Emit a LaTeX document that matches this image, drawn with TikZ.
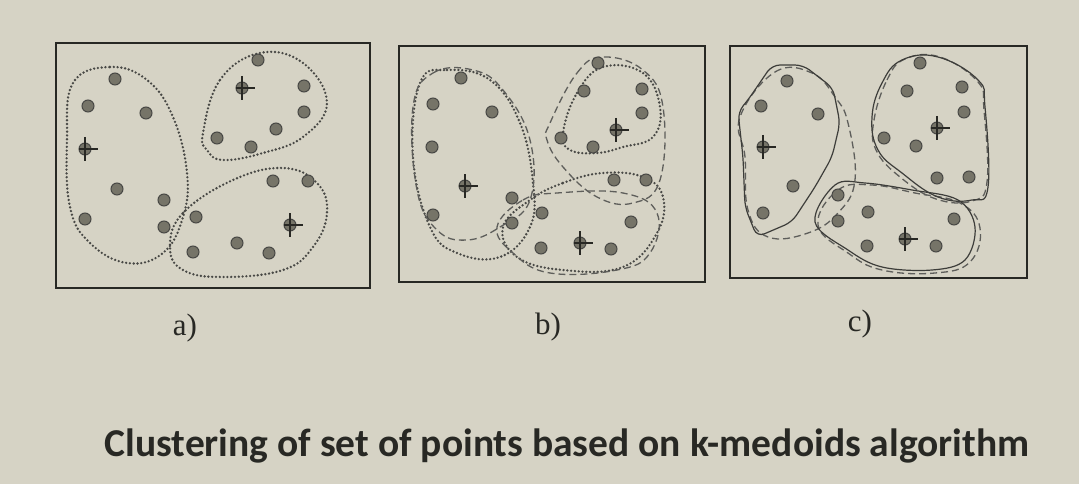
\documentclass[tikz,border=0pt]{standalone}
\usepackage{fontspec}
\setmainfont{Liberation Serif}
\newfontfamily\capfont{Carlito}
\usetikzlibrary{positioning}
\definecolor{paper}{RGB}{214,211,197}
\definecolor{ink}{RGB}{40,40,36}
\definecolor{dotgrey}{RGB}{118,116,104}

\begin{document}
\begin{tikzpicture}[x=1pt, y=-1pt,
  panel/.style={draw=ink, line width=1.3pt},
  pnt/.style={circle, draw=ink!85, fill=dotgrey, line width=1pt, inner sep=0pt, minimum size=12pt},
  cross/.style={draw=ink, line width=1.2pt},
  olddots/.style={draw=ink!85, line width=2.6pt, line cap=round, dash pattern=on 0pt off 3.8pt},
  newdash/.style={draw=ink!75, line width=1.3pt, dash pattern=on 7pt off 4pt},
  final/.style={draw=ink!90, line width=1.2pt},
  lbl/.style={font=\fontsize{31}{33}\selectfont, text=ink}]

  \useasboundingbox[fill=paper] (0,0) rectangle (1079,484);

  % frames
  \draw[panel] (56,43) rectangle (370,288);
  \draw[panel] (399,46) rectangle (705,282);
  \draw[panel] (730,46) rectangle (1027,278);

  % a) starting clusters
  \draw[olddots] plot[smooth cycle, tension=0.7] coordinates {(73,83) (110,67) (147,80) (173,117) (187,173) (183,217) (163,253) (127,263) (90,243) (70,207) (67,140)};
  \draw[olddots] plot[smooth cycle, tension=0.7] coordinates {(203,133) (220,80) (260,53) (303,63) (327,103) (303,137) (263,153) (223,160) (207,150)};
  \draw[olddots] plot[smooth cycle, tension=0.7] coordinates {(170,247) (183,213) (233,180) (283,168) (317,183) (327,213) (313,247) (283,270) (223,277) (183,270)};

  % b) previous and new clusters
  \draw[olddots] plot[smooth cycle, tension=0.7] coordinates {(420,83) (447,70) (490,80) (520,123) (533,183) (530,227) (500,257) (457,253) (430,227) (413,157)};
  \draw[olddots] plot[smooth cycle, tension=0.7] coordinates {(563,133) (577,93) (603,67) (643,73) (660,107) (653,137) (623,147) (597,153) (570,150)};
  \draw[olddots] plot[smooth cycle, tension=0.7] coordinates {(530,200) (563,183) (603,173) (643,177) (663,197) (657,233) (623,267) (563,270) (517,257) (503,227)};
  \draw[newdash] plot[smooth cycle, tension=0.7] coordinates {(413,107) (433,73) (473,70) (503,90) (530,140) (530,200) (500,227) (467,240) (437,230) (417,190)};
  \draw[newdash] plot[smooth cycle, tension=0.7] coordinates {(550,123) (577,73) (603,57) (643,70) (663,107) (660,180) (633,203) (597,197) (563,167) (547,140)};
  \draw[newdash] plot[smooth cycle, tension=0.7] coordinates {(497,227) (523,200) (557,193) (623,193) (657,213) (650,253) (617,270) (550,273) (513,253)};

  % c) final clusters
  \draw[newdash] plot[smooth cycle, tension=0.7] coordinates {(740,117) (775,72) (812,73) (835,97) (848,123) (855,180) (838,213) (808,233) (768,237) (748,210) (745,157)};
  \draw[newdash] plot[smooth cycle, tension=0.7] coordinates {(874,120) (887,80) (905,59) (940,57) (978,82) (984,110) (987,182) (972,201) (936,199) (900,177) (876,150)};
  \draw[newdash] plot[smooth cycle, tension=0.7] coordinates {(818,225) (838,190) (872,185) (915,193) (960,203) (980,228) (970,262) (935,273) (882,270) (848,253)};
  \draw[final, rounded corners=8pt] (772,65) -- (803,65) -- (833,88) -- (840,123) -- (832,157) -- (815,187) -- (792,222) -- (757,237) -- (745,207) -- (743,157) -- (738,112) -- (748,100) -- cycle;
  \draw[final] plot[smooth cycle, tension=0.7] coordinates {(872,117) (882,83) (902,60) (938,57) (978,80) (985,107) (988,187) (972,200) (938,197) (902,173) (878,150)};
  \draw[final] plot[smooth cycle, tension=0.6] coordinates {(815,222) (835,185) (865,183) (912,190) (958,200) (975,227) (965,260) (932,270) (882,267) (848,250)};

  % points
  \foreach \px/\py [count=\i] in {115/79, 88/106, 146/113, 85/149, 117/189, 85/219, 164/200, 164/227,
      258/60, 242/88, 304/86, 304/112, 276/129, 217/138, 251/147,
      273/181, 308/181, 196/217, 290/225, 237/243, 193/252, 269/253}
    \node[pnt] (a\i) at (\px,\py) {};
  \foreach \px/\py [count=\i] in {461/78, 433/104, 492/112, 432/147, 465/186, 433/215, 512/198, 512/223,
      598/63, 584/91, 642/89, 642/113, 616/130, 561/138, 593/147,
      614/180, 646/180, 542/213, 631/222, 580/243, 541/248, 611/249}
    \node[pnt] (b\i) at (\px,\py) {};
  \foreach \px/\py [count=\i] in {787/81, 761/106, 818/114, 763/147, 793/186, 763/213,
      920/63, 907/91, 962/87, 964/112, 937/128, 884/138, 916/146, 937/178, 969/177,
      838/195, 838/221, 868/212, 954/219, 905/239, 867/246, 936/246}
    \node[pnt] (c\i) at (\px,\py) {};

  % medoids
  \foreach \m in {a4, a10, a19, b5, b13, b20, c4, c11, c20}
    \draw[cross] (\m.center) +(-6,0) -- +(13,0) +(0,-12) -- +(0,12);

  % labels
  \node[lbl] (la) at (185,328) {a)};
  \node[lbl] (lb) at (548,327) {b)};
  \node[lbl] (lc) at (860,324) {c)};
  \node[font=\capfont\bfseries\fontsize{39.5}{42}\selectfont, text=ink] (cap) at (567,446)
    {Clustering of set of points based on k-medoids algorithm};
\end{tikzpicture}
\end{document}
